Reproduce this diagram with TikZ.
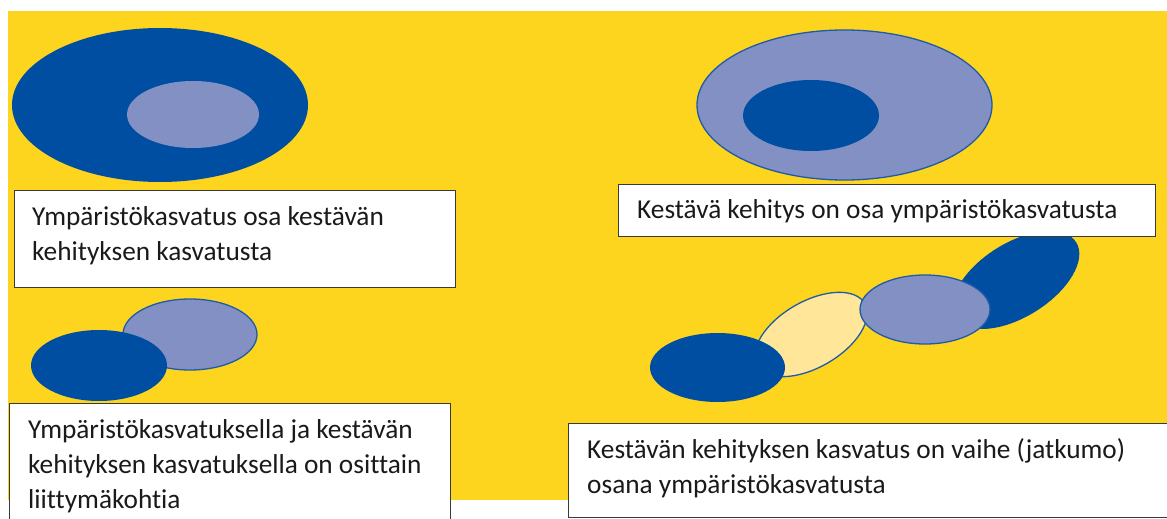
\documentclass[tikz,border=0pt]{standalone}
\usepackage{fontspec}
\setmainfont{Carlito}[Ligatures={NoCommon}]
\usetikzlibrary{shapes.geometric}
\definecolor{bgyellow}{HTML}{FDD41E}
\definecolor{darkblue}{HTML}{004EA2}
\definecolor{lightblue}{HTML}{8290C4}
\definecolor{paleyellow}{HTML}{FFE699}
\definecolor{edgeblue}{HTML}{1E5CA8}
\definecolor{boxedge}{HTML}{3A3A3A}
\definecolor{txtcol}{HTML}{1A1A1A}
\tikzset{
  oval/.style={ellipse, inner sep=0pt, outer sep=0pt},
  darkoval/.style={oval, fill=darkblue},
  lightoval/.style={oval, fill=lightblue, draw=edgeblue, line width=1.3pt},
  paleoval/.style={oval, fill=paleyellow, draw=edgeblue, line width=1.3pt},
  textbox/.style={rectangle, fill=white, draw=boxedge, line width=1.2pt, inner sep=0pt, anchor=north west},
  label/.style={inner sep=0pt, anchor=base west, align=left, text=txtcol, font=\fontsize{27.3}{35}\selectfont}
}
\begin{document}
\begin{tikzpicture}[x=1pt, y=-1pt]
\useasboundingbox (0,0) rectangle (1167,519);
\fill[bgyellow] (8,11) rectangle (1167,500);
% top-left
\node[darkoval, minimum width=296pt, minimum height=154pt] (tlouter) at (160,105) {};
\node[lightoval, draw=none, minimum width=132pt, minimum height=67pt] (tlinner) at (193,114.5) {};
\node[textbox, minimum width=441pt, minimum height=97pt] (tlbox) at (14,190) {};
\node[label] (tltext) at (32,260) {Ympäristökasvatus osa kestävän\\kehityksen kasvatusta};
% top-right
\node[lightoval, minimum width=295pt, minimum height=150pt] (trouter) at (844.5,105) {};
\node[darkoval, minimum width=136pt, minimum height=71pt] (trinner) at (811,115.5) {};
\node[darkoval, rotate=32, minimum width=142pt, minimum height=74pt] (brdark2) at (1016,280) {};
\node[textbox, minimum width=537pt, minimum height=52pt] (trbox) at (618,184) {};
\node[label] (trtext) at (637,218) {Kestävä kehitys on osa ympäristökasvatusta};
% bottom-left
\node[lightoval, minimum width=134pt, minimum height=71pt] (bllight) at (190,334.5) {};
\node[darkoval, minimum width=136pt, minimum height=71pt] (bldark) at (99,365.5) {};
\node[textbox, minimum width=441pt, minimum height=130pt] (blbox) at (9,403) {};
\node[label] (bltext) at (28,508) {Ympäristökasvatuksella ja kestävän\\kehityksen kasvatuksella on osittain\\liittymäkohtia};
% bottom-right chain
\node[paleoval, rotate=30, minimum width=124pt, minimum height=66pt] (brpale) at (811,334.5) {};
\node[lightoval, minimum width=130pt, minimum height=69pt] (brlight) at (925,309.5) {};
\node[darkoval, minimum width=135pt, minimum height=69pt] (brdark1) at (717.5,367.5) {};
\node[textbox, minimum width=650pt, minimum height=94pt] (brbox) at (568,423) {};
\node[label] (brtext) at (587,493) {Kestävän kehityksen kasvatus on vaihe (jatkumo)\\osana ympäristökasvatusta};
\end{tikzpicture}
\end{document}
